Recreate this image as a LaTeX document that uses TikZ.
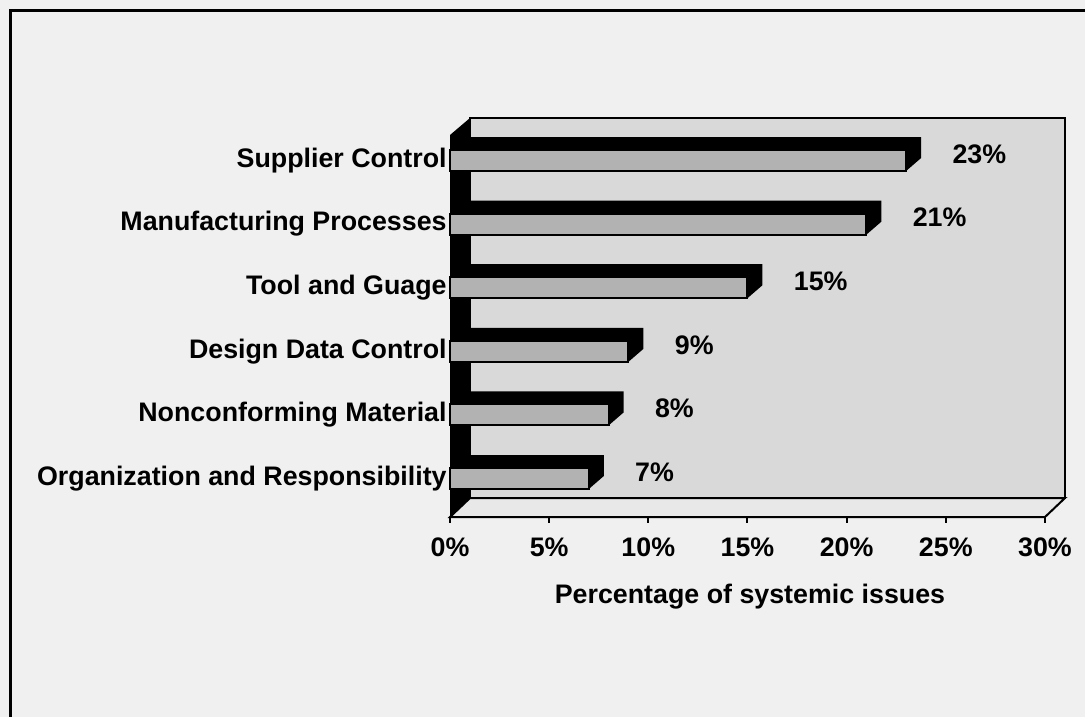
\documentclass[tikz,border=0pt]{standalone}
\usepackage{fontspec}
\setmainfont{Liberation Sans}
\tikzset{
  chartfont/.style={font=\fontsize{13.4}{16}\selectfont\bfseries},
  catlabel/.style={chartfont,anchor=east,inner sep=0pt},
  vallabel/.style={chartfont,anchor=west,inner sep=0pt},
  ticklabel/.style={chartfont,inner sep=0pt},
  barface/.style={fill=gray!60,draw=black,line width=1pt}
}
\begin{document}
\begin{tikzpicture}[x=0.5pt,y=-0.5pt]
        \useasboundingbox (0,0) rectangle (1085,717);
        \fill [gray!12] (0,0) rectangle (1085,717);
        \draw [line width=1.5pt] (1085,11)--(10,11)--(10,717);
        \filldraw [fill=gray!30,line width=1pt] (470,118) rectangle (1065,498);
        \filldraw [fill=gray!18,line width=1pt] (450,517)--(1045,517)--(1065,498)--(470,498)--cycle;
        \fill [black] (450,135)--(470,118)--(470,498)--(450,517)--cycle;
        \foreach \p in {0,5,...,30}{
        \draw [line width=1pt] (450+19.83*\p,517)--++(0,6);
        \node [ticklabel] (tick\p) at (450+19.83*\p,547) {\p\%};
        }
        \foreach \lab/\v [count=\i from 0] in {Supplier Control/23,Manufacturing Processes/21,Tool and Guage/15,Design Data Control/9,Nonconforming Material/8,Organization and Responsibility/7}{
        \pgfmathsetmacro\yt{150+63.6*\i}
        \pgfmathsetmacro\xv{450+19.83*\v}
        \fill [black] (450,\yt)--(465,\yt-13)--(\xv+15,\yt-13)--(\xv+15,\yt+8)--(\xv,\yt+21)--(450,\yt+21)--cycle;
        \draw [barface] (450,\yt) rectangle (\xv,\yt+21);
        \node [catlabel] (cat\i) at (447,\yt+10.5) {\lab};
        \node [vallabel] (val\i) at (\xv+46,\yt+4) {\v\%};
        }
        \node [ticklabel] (xtitle) at (750,597) {Percentage of systemic issues};
    \end{tikzpicture}
\end{document}
